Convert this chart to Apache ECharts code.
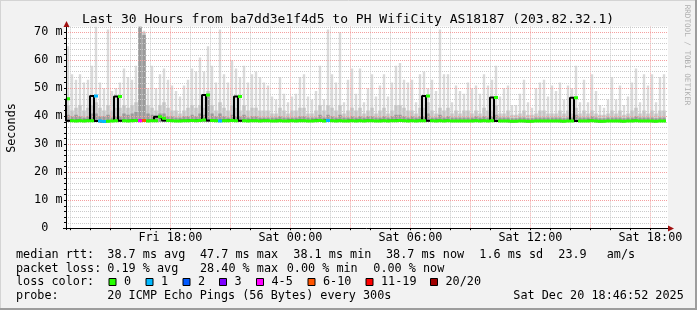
<!DOCTYPE html>
<html>
<head>
<meta charset="utf-8">
<script src="https://cdn.jsdelivr.net/npm/echarts@6/dist/echarts.min.js"></script>
<style>
html,body{margin:0;padding:0;background:#f2f2f2;}
#c{width:697px;height:310px;}
</style>
</head>
<body>
<div id="c"></div>
<script>
// ---------------- data ----------------
const T0 = 12 + 46/60 + 52/3600;   // Fri 12:46:52, hours from Fri 00:00
const SPAN_H = 30;                 // last 30 hours
const BIN_H = 0.2;                 // 12-minute bins (150 bins)
const PING_MIN = 37.9;             // bottom of the smoke (ms)

// highest ping per bin (light smoke top), ms
const smokeMax = [
 65,55,53,55,52,53,58,72,52,50,71,49,50,52,57,54,53,58,72,70.5,50,58,50,55,57,
 53,51,49,47,51,53,57,56,61,56,65,58,52,71,55,52,60,57,54,58,52,55,56,54,52,
 51,47,46,54,48,45,47,48,54,55,47,46,49,58,46,71,55,52,70,45,53,57,48,57,45,
 50,55,47,51,55,47,52,58,59,53,52,53,45,55,56,50,53,49,71,55,55,45,51,49,48,
 52,50,51,48,55,51,53,58,47,50,51,44,44,48,53,45,43,50,52,53,47,51,49,52,46,
 51,50,58,45,53,45,55,49,44,43,46,54,46,51,44,47,52,57,45,55,51,55,45,54,55
];
// upper quartile smoke (medium grey), ms
const smokeMid = [
 44,42,43,44,42,43,44,45,43,42,44,42,43,43,44,43,44,45,72,70,44,43,42,44,45,
 43,42,42,41,42,43,44,43,44,43,49,44,42,45,43,42,44,43,42,44,42,43,43,42,42,
 42,41,41,43,42,41,42,42,43,43,41,41,42,44,42,44,43,42,44,41,42,43,42,43,41,
 42,43,41,42,43,41,42,44,44,43,42,42,41,43,43,45,42,41,43,42,43,41,42,41,42,
 42,41,42,41,43,42,42,44,41,41,42,40.5,40.5,41,42,40.5,40.5,41,42,42,41,41,41,42,41,
 42,41,43,41,42,41,42,41,40.5,40.5,41,42,41,42,40.5,41,42,43,41,42,41,42,41,42,42
];
// lower smoke (dark grey), ms
const smokeLow = [
 40.5,40,40.5,40,39.5,40,41,41,40,40,40.5,39.5,40,40,41,40.5,41,41.5,72,69,41,40.5,40,41,41,
 40,40,39.5,39.5,40,40,40.5,40,41,40.5,47,41,40,41,40,39.5,40.5,40,40,40.5,39.5,40,40,39.5,39.5,
 39.5,39.5,39.5,40,39.5,39.5,39.5,39.5,40,40,39.5,39.5,39.5,40.5,39.5,40.5,40,39.5,40.5,39.5,39.5,40,39.5,40,39.5,
 40,40,39.5,39.5,40,39.5,40,40.5,40.5,40,39.5,40,39.5,40,40,41,39.5,39.5,40.5,39.5,40,39.5,39.5,39.5,39.5,
 39.5,39.5,40,39.5,40,39.5,40,40.5,39.5,39.5,39.5,39.3,39.3,39.5,39.5,39.3,39.3,39.5,39.5,39.5,39.5,39.5,39.5,39.5,39.3,
 39.5,39.5,40.5,39.5,39.5,39.5,40,39.5,39.3,39.3,39.5,39.5,39.5,39.5,39.3,39.5,39.5,40,39.5,39.5,39.5,39.5,39.3,39.5,39.5
];
// median rtt per bin, ms
const medianRtt = [
 46.2,38.4,38.3,38.4,38.3,38.4,38.4,47.2,38.3,38.1,38.2,38.3,38.4,47.0,38.4,38.3,38.4,38.5,38.4,38.5,38.3,38.4,38.4,39.8,39.3,
 38.5,38.4,38.3,38.3,38.4,38.4,38.5,38.4,38.5,38.6,47.6,38.5,38.4,38.3,38.4,38.4,38.5,38.4,47.0,38.4,38.3,38.4,38.4,38.3,38.4,
 38.4,38.3,38.3,38.4,38.3,38.3,38.4,38.3,38.4,38.4,38.3,38.3,38.4,38.5,38.3,38.5,38.4,38.3,38.4,38.3,38.3,38.4,38.3,38.4,38.3,
 38.4,38.4,38.3,38.3,38.4,38.3,38.4,38.4,38.5,38.4,38.3,38.4,38.3,38.4,38.4,47.2,38.4,38.3,38.4,38.3,38.4,38.3,38.3,38.3,38.3,
 38.3,38.3,38.4,38.3,38.4,38.3,38.4,46.7,38.3,38.3,38.3,38.2,38.2,38.3,38.3,38.2,38.2,38.3,38.3,38.3,38.3,38.3,38.3,38.3,38.2,
 38.3,38.3,46.6,38.3,38.3,38.3,38.4,38.3,38.2,38.2,38.3,38.3,38.3,38.3,38.2,38.3,38.3,38.4,38.3,38.3,38.3,38.3,38.2,38.3,38.3
];
// packet-loss class per bin (index into lossLabels)
const lossClass = [
 0,0,0,0,0,0,0,1,1,1,0,0,0,0,0,0,0,0,4,5,0,0,0,0,0,
 0,0,0,0,0,0,0,0,0,0,0,0,0,1,0,0,0,0,0,0,0,0,0,0,0,
 0,0,0,0,0,0,0,0,0,0,0,0,0,0,0,1,0,0,0,0,0,0,0,0,0,
 0,0,0,0,0,0,0,0,0,0,0,0,0,0,0,0,0,0,0,0,0,0,0,0,0,
 0,0,0,0,0,0,0,0,0,0,0,0,0,0,0,0,0,0,0,0,0,0,0,0,0,
 0,0,0,0,0,0,0,0,0,0,0,0,0,0,0,0,0,0,0,0,0,0,0,0,0
];
const lossLabels = ['0','1','2','3','4-5','6-10','11-19','20/20'];
const lossColors = ['#26ff00','#00b8ff','#0059ff','#7e00ff','#ff00ff','#ff5500','#ff0000','#a00000'];
const xLabelHours = [18, 24, 30, 36, 42];
const yMax = 72;

const titleText = 'Last 30 Hours from ba7dd3e1f4d5 to PH WifiCity AS18187 (203.82.32.1)';
const statsRow1 = [['median rtt:',16],['38.7 ms avg',107.3],['47.7 ms max',200],['38.1 ms min',293.3],['38.7 ms now',386],['1.6 ms sd',479.3],['23.9',558.3],['am/s',606.7]];
const statsRow2 = [['packet loss:',16],['0.19 % avg',107.3],['28.40 % max',200],['0.00 % min',286.7],['0.00 % now',373.3]];
const probeRow = [['probe:',16],['20 ICMP Echo Pings (56 Bytes) every 300s',107.3],['Sat Dec 20 18:46:52 2025',513.3]];

// ---------------- layout ----------------
const GL = 66, GT = 26.6, GW = 602, GH = 201.6;
const MONO = '"DejaVu Sans Mono", monospace';
const FS = 11.8;

const tStart = i => T0 + i * BIN_H;

// smoke layer as custom rectangles through the axes
// (frac = share of the bin width the column occupies, centred)
function smokeLayer(name, arr, color, frac){
  return {type:'custom', name:name, z:2, silent:true, clip:true,
    encode:{x:0, y:1},
    data: arr.map((v,i)=>[tStart(i), v]),
    renderItem:(params, api)=>{
      const p1 = api.coord([api.value(0), api.value(1)]);
      const p0 = api.coord([api.value(0) + BIN_H, PING_MIN]);
      const w = p0[0]-p1[0];
      const ww = w*frac;
      return {type:'rect', shape:{x:p1[0]+(w-ww)/2, y:p1[1], width:ww, height:p0[1]-p1[1]},
        style:{fill:color}};
    }};
}

const series = [];
series.push(smokeLayer('light', smokeMax, '#dadada', 0.6));
series.push(smokeLayer('mid', smokeMid, '#c4c4c4', 0.85));
series.push(smokeLayer('dark', smokeLow, '#9a9a9a', 0.85));

// grid lines (drawn above smoke, like rrdtool)
const gridRows = [];
for (let h = 13; h <= 42; h++) gridRows.push([h, 0, h%3===0 ? 1 : 0, 0]);
for (let v = 2; v <= 72; v += 2) gridRows.push([T0, v, v%10===0 ? 1 : 0, 1]);
series.push({type:'custom', name:'grid', z:3, silent:true, clip:false,
  encode:{x:0, y:1},
  data:gridRows,
  renderItem:(params, api)=>{
    const cs = params.coordSys;
    const p = api.coord([api.value(0), api.value(1)]);
    const col = api.value(2) ? '#f4a0a0' : '#cacaca';
    let shape;
    if (api.value(3) === 0) { const x = Math.round(p[0]) + 0.5; shape = {x1:x, y1:cs.y, x2:x, y2:cs.y+cs.height}; }
    else { const y = Math.round(p[1]) + 0.5; shape = {x1:cs.x, y1:y, x2:cs.x+cs.width, y2:y}; }
    return {type:'line', shape:shape, style:{stroke:col, lineWidth:1, lineDash:[1,1]}};
  }});

// median black step line
const medPts = medianRtt.map((m,i)=>[tStart(i), m]);
medPts.push([T0 + SPAN_H, medianRtt[medianRtt.length-1]]);
series.push({type:'line', name:'median', step:'start', data:medPts, symbol:'none',
  lineStyle:{color:'#000', width:2}, z:4, silent:true});
// median coloured by loss (short horizontal bars per bin)
series.push({type:'custom', name:'loss', z:5, silent:true, clip:true,
  encode:{x:0, y:1},
  data: medianRtt.map((m,i)=>[tStart(i), m, lossClass[i]]),
  renderItem:(params, api)=>{
    const a = api.coord([api.value(0), api.value(1)]);
    const b = api.coord([api.value(0) + BIN_H, api.value(1)]);
    return {type:'rect', shape:{x:a[0], y:a[1]-1.5, width:b[0]-a[0], height:3},
      style:{fill:lossColors[api.value(2)]}};
  }});

// ---------------- graphics (frame, title, legend) ----------------
const graphic = [];
const txt = (s, x, y, extra) => Object.assign({type:'text', x:x, y:y, silent:true,
  style:Object.assign({text:s, fontFamily:MONO, fontSize:FS, fill:'#000', verticalAlign:'middle', align:'left'}, extra||{})});
graphic.push({type:'line', shape:{x1:0,y1:0.5,x2:697,y2:0.5}, style:{stroke:'#d4d4d4',lineWidth:1}, silent:true});
graphic.push({type:'line', shape:{x1:0.5,y1:0,x2:0.5,y2:310}, style:{stroke:'#d4d4d4',lineWidth:1}, silent:true});
graphic.push({type:'line', shape:{x1:696,y1:0,x2:696,y2:310}, style:{stroke:'#9d9d9d',lineWidth:2}, silent:true});
graphic.push({type:'line', shape:{x1:0,y1:309,x2:697,y2:309}, style:{stroke:'#9d9d9d',lineWidth:2}, silent:true});
graphic.push(txt(titleText, 348, 19.5, {align:'center', fontSize:13}));
graphic.push({type:'text', x:11.5, y:128, rotation:Math.PI/2, silent:true,
  style:{text:'Seconds', fontFamily:MONO, fontSize:FS, fill:'#000', align:'center', verticalAlign:'middle'}});
graphic.push({type:'text', x:687, y:55, rotation:-Math.PI/2, silent:true,
  style:{text:'RRDTOOL / TOBI OETIKER', fontFamily:MONO, fontSize:7.6, fill:'#b0b0b0', align:'center', verticalAlign:'middle'}});
// axes with arrows
graphic.push({type:'line', shape:{x1:66.5,y1:230,x2:66.5,y2:24}, style:{stroke:'#000',lineWidth:1}, silent:true, z:20});
graphic.push({type:'polygon', shape:{points:[[66.5,21],[63.5,27],[69.5,27]]}, style:{fill:'#a01010'}, silent:true, z:20});
graphic.push({type:'line', shape:{x1:63,y1:228.5,x2:670,y2:228.5}, style:{stroke:'#000',lineWidth:1}, silent:true, z:20});
graphic.push({type:'polygon', shape:{points:[[674,228.5],[668,225.5],[668,231.5]]}, style:{fill:'#a01010'}, silent:true, z:20});
// stats rows
statsRow1.forEach(([s,x])=>graphic.push(txt(s, x, 255)));
statsRow2.forEach(([s,x])=>graphic.push(txt(s, x, 268.5)));
graphic.push(txt('loss color:', 16, 282));
const boxX = [108.5,145.5,182.5,219,256,307.5,365.5,430];
lossLabels.forEach((lab,i)=>{
  graphic.push({type:'rect', shape:{x:boxX[i]+0.5,y:278.5,width:7,height:7}, style:{fill:lossColors[i], stroke:'#000', lineWidth:1}, silent:true});
  graphic.push(txt(lab, boxX[i]+15.5, 282));
});
probeRow.forEach(([s,x])=>graphic.push(txt(s, x, 296)));

const dayName = h => (h < 24 ? 'Fri' : 'Sat');
const pad = n => (n < 10 ? '0' : '') + n;

const chart = echarts.init(document.getElementById('c'), null, {renderer:'canvas'});
chart.setOption({
  backgroundColor:'#f2f2f2',
  animation:false,
  grid:{left:GL, top:GT, width:GW, height:GH, show:true, backgroundColor:'#ffffff', borderWidth:0, containLabel:false},
  xAxis:{type:'value', min:T0, max:T0 + SPAN_H*GW/600,
    axisLine:{show:false},
    splitLine:{show:false},
    axisTick:{show:true, customValues:Array.from({length:30},(_,k)=>13+k), length:2, lineStyle:{color:'#000'}},
    axisLabel:{customValues:xLabelHours, margin:4, fontFamily:MONO, fontSize:FS, color:'#000',
      formatter:v=>dayName(v)+' '+pad(Math.round(v)%24)+':00'}},
  yAxis:{type:'value', min:0, max:yMax, interval:2,
    axisLine:{show:false},
    splitLine:{show:false},
    axisTick:{show:true, length:2, lineStyle:{color:'#000'}},
    axisLabel:{margin:3.5, fontFamily:MONO, fontSize:FS, color:'#000', showMaxLabel:false,
      formatter:v=>(v%10===0 ? (v===0 ? '0  ' : v+' m') : '')}},
  series:series,
  graphic:graphic
});
</script>
</body>
</html>
